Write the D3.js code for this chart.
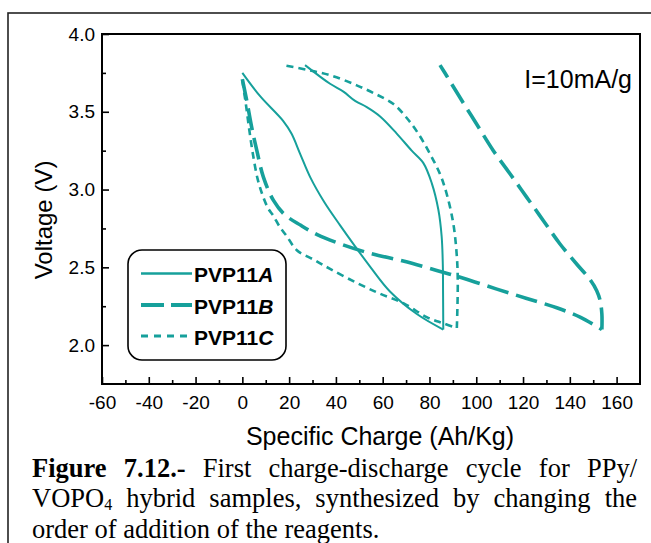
<!DOCTYPE html>
<html>
<head>
<meta charset="utf-8">
<script src="https://cdn.jsdelivr.net/npm/d3@7"></script>
<style>
  html, body { margin: 0; padding: 0; background: #fff; }
  svg { display: block; }
</style>
</head>
<body>
<svg id="chart" width="651" height="543"></svg>
<script>
// ---- data: specific charge (Ah/Kg) vs voltage (V), first cycle ----
const xMajorTicks = [-60, -40, -20, 0, 20, 40, 60, 80, 100, 120, 140, 160];
const xMinorTicks = [-50, -30, -10, 10, 30, 50, 70, 90, 110, 130, 150];
const yMajorTicks = [2.0, 2.5, 3.0, 3.5, 4.0];
const yMinorTicks = [2.25, 2.75, 3.25, 3.75];
const seriesNames = ["PVP11", "PVP11", "PVP11"];
const seriesSuffix = ["A", "B", "C"];

const pvp11aDischarge = [[0,3.75],[7.6,3.60],[17.5,3.44],[21,3.36],[24.7,3.23],[29,3.08],[35,2.92],[41.8,2.77],[48.2,2.635],[54.6,2.505],[63.1,2.345],[74.6,2.20],[85.9,2.10]];
const pvp11aCharge = [[85.9,2.10],[85.8,2.35],[85.7,2.52],[85.2,2.70],[83.8,2.87],[81,3.04],[77.4,3.17],[72.4,3.25],[66,3.36],[58.9,3.47],[53.2,3.53],[48.2,3.57],[43.2,3.63],[37.5,3.68],[26.8,3.80]];

const pvp11bDischarge = [[0,3.71],[1.9,3.57],[4,3.40],[6.2,3.25],[9,3.08],[13.3,2.93],[18,2.84],[25,2.77],[32,2.71],[42,2.65],[54.6,2.59],[68.8,2.54],[83.1,2.48],[94.5,2.43],[108.8,2.36],[121.6,2.30],[134.4,2.24],[144.4,2.18],[153.7,2.10]];
const pvp11bCharge = [[153.7,2.10],[153.7,2.20],[152.9,2.29],[151.5,2.35],[148.7,2.42],[143,2.52],[135.8,2.65],[128.7,2.80],[121.6,2.95],[114.5,3.10],[107.3,3.25],[100.2,3.42],[93.1,3.59],[87.4,3.73],[84.5,3.80]];

const pvp11cDischarge = [[0,3.70],[1.5,3.55],[3,3.38],[4.6,3.22],[6.5,3.07],[8.5,2.97],[11,2.88],[13.3,2.83],[16,2.76],[19,2.70],[23.3,2.61],[30.4,2.55],[37.5,2.49],[48.9,2.40],[58.9,2.33],[68.8,2.27],[78.8,2.18],[85.9,2.14],[91.7,2.11]];
const pvp11cCharge = [[91.7,2.11],[92.1,2.40],[91.7,2.57],[90.2,2.78],[87.4,2.97],[84.5,3.10],[80.2,3.23],[75.2,3.36],[70.3,3.46],[64.6,3.55],[57.5,3.61],[48.9,3.67],[37.5,3.735],[27.5,3.77],[17.5,3.80]];

const currentLabel = "I=10mA/g";
const xTitle = "Specific Charge (Ah/Kg)";
const yTitle = "Voltage (V)";

// caption words; each word is a list of segments (bold / subscript)
const captionLines = [
  { justify: true, words: [[{t:"Figure", b:1}], [{t:"7.12.-", b:1}], [{t:"First"}], [{t:"charge-discharge"}], [{t:"cycle"}], [{t:"for"}], [{t:"PPy/"}]] },
  { justify: true, words: [[{t:"VOPO"}, {t:"4", sub:1}], [{t:"hybrid"}], [{t:"samples,"}], [{t:"synthesized"}], [{t:"by"}], [{t:"changing"}], [{t:"the"}]] },
  { justify: false, words: [[{t:"order"}], [{t:"of"}], [{t:"addition"}], [{t:"of"}], [{t:"the"}], [{t:"reagents."}]] }
];

// ---- drawing ----
const teal = "#16a09b";
const sans = "'Liberation Sans', Arial, Helvetica, sans-serif";
const serif = "'Liberation Serif', 'Times New Roman', Times, serif";

const svg = d3.select("#chart");
svg.append("rect").attr("width", 651).attr("height", 543).attr("fill", "#fff");

// outer figure border
svg.append("rect")
  .attr("x", 8).attr("y", 13).attr("width", 720).attr("height", 620)
  .attr("fill", "none").attr("stroke", "#222").attr("stroke-width", 1.6);

const plot = { left: 102, right: 640, top: 34, bottom: 384 };
const x = d3.scaleLinear().domain([-60, 170]).range([plot.left, plot.right]);
const y = d3.scaleLinear().domain([1.75, 4.0]).range([plot.bottom, plot.top]);

// x axis (ticks point inward), plain hyphen for negatives
const gx = svg.append("g").attr("transform", `translate(0,${plot.bottom})`);
gx.call(d3.axisBottom(x).tickValues(xMajorTicks).tickSize(-7).tickPadding(12).tickFormat(d => String(d)));
gx.append("g").call(d3.axisBottom(x).tickValues(xMinorTicks).tickSize(-4).tickFormat(""));
gx.selectAll(".domain").remove();

// y axis
const gy = svg.append("g").attr("transform", `translate(${plot.left},0)`);
gy.call(d3.axisLeft(y).tickValues(yMajorTicks).tickSize(-7).tickPadding(7).tickFormat(d3.format(".1f")));
gy.append("g").call(d3.axisLeft(y).tickValues(yMinorTicks).tickSize(-4).tickFormat(""));
gy.selectAll(".domain").remove();

svg.selectAll(".tick line").attr("stroke", "#000").attr("stroke-width", 1.6);
svg.selectAll(".tick text").attr("font-family", sans).attr("font-size", 19).attr("fill", "#000");

// plot frame
svg.append("rect")
  .attr("x", plot.left).attr("y", plot.top)
  .attr("width", plot.right - plot.left).attr("height", plot.bottom - plot.top)
  .attr("fill", "none").attr("stroke", "#000").attr("stroke-width", 2);

// curves
const line = d3.line().x(d => x(d[0])).y(d => y(d[1])).curve(d3.curveCatmullRom.alpha(0.5));
const styles = [
  { w: 2.0, dash: null },
  { w: 3.6, dash: "22,8" },
  { w: 2.6, dash: "7,5" }
];
const curves = [
  [pvp11aDischarge, pvp11aCharge],
  [pvp11bDischarge, pvp11bCharge],
  [pvp11cDischarge, pvp11cCharge]
];
const gLines = svg.append("g");
curves.forEach((segs, i) => {
  segs.forEach(seg => {
    gLines.append("path")
      .attr("d", line(seg))
      .attr("fill", "none")
      .attr("stroke", teal)
      .attr("stroke-width", styles[i].w)
      .attr("stroke-dasharray", styles[i].dash)
      .attr("stroke-linejoin", "round");
  });
});

// legend
const lg = svg.append("g");
lg.append("rect")
  .attr("x", 128).attr("y", 250).attr("width", 158).attr("height", 110).attr("rx", 14)
  .attr("fill", "#fff").attr("stroke", "#000").attr("stroke-width", 1.6);
const legendY = [273.5, 305, 336];
seriesNames.forEach((name, i) => {
  lg.append("line")
    .attr("x1", 141).attr("x2", 192).attr("y1", legendY[i]).attr("y2", legendY[i])
    .attr("stroke", teal).attr("stroke-width", styles[i].w + 0.4)
    .attr("stroke-dasharray", i === 1 ? "23,7" : (i === 2 ? "7,6" : null));
  const t = lg.append("text")
    .attr("x", 194).attr("y", legendY[i] + 8.5)
    .attr("font-family", sans).attr("font-weight", "bold").attr("font-size", 21)
    .text(name);
  const w = t.node().getComputedTextLength();
  lg.append("text")
    .attr("x", 194 + w).attr("y", legendY[i] + 8.5)
    .attr("font-family", sans).attr("font-weight", "bold").attr("font-style", "italic")
    .attr("font-size", 21).text(seriesSuffix[i]);
});

// current annotation
svg.append("text")
  .attr("x", 632).attr("y", 88).attr("text-anchor", "end")
  .attr("font-family", sans).attr("font-size", 25).text(currentLabel);

// axis titles
svg.append("text")
  .attr("x", 380).attr("y", 445).attr("text-anchor", "middle")
  .attr("font-family", sans).attr("font-size", 25).text(xTitle);
svg.append("text")
  .attr("transform", "translate(52,220) rotate(-90)").attr("text-anchor", "middle")
  .attr("font-family", sans).attr("font-size", 24).text(yTitle);

// caption, justified between left and right margins
const capLeft = 32, capRight = 637, capSize = 26.5;
const capBase = [477, 507, 538];
captionLines.forEach((ln, li) => {
  const g = svg.append("g");
  const nodes = ln.words.map(word => {
    const t = g.append("text").attr("y", capBase[li])
      .attr("font-family", serif).attr("font-size", capSize).attr("fill", "#000");
    word.forEach(seg => {
      const ts = t.append("tspan").text(seg.t);
      if (seg.b) ts.attr("font-weight", "bold");
      if (seg.sub) ts.attr("font-size", 16).attr("dy", 3);
    });
    return t;
  });
  const widths = nodes.map(n => n.node().getComputedTextLength());
  const total = d3.sum(widths);
  const gap = ln.justify ? (capRight - capLeft - total) / (nodes.length - 1) : capSize * 0.25;
  let cx = capLeft;
  nodes.forEach((n, i) => { n.attr("x", cx); cx += widths[i] + gap; });
});
</script>
</body>
</html>
